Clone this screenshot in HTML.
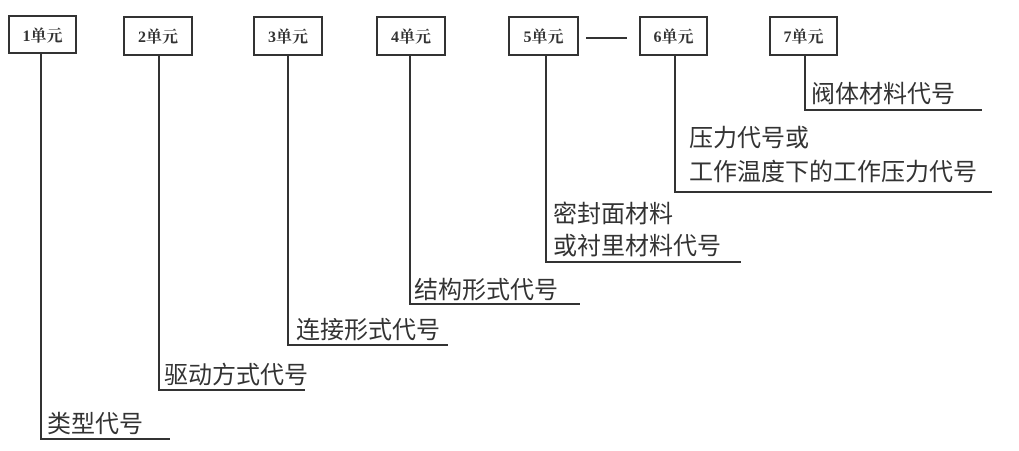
<!DOCTYPE html>
<html><head><meta charset="utf-8"><style>
body{margin:0;background:#fff;}
svg text{font-family:"Liberation Sans","Noto Sans CJK SC",sans-serif;fill:#333;}
svg text.b{font-family:"Liberation Serif","Noto Serif CJK SC",serif;font-weight:bold;font-size:16px;}
</style></head><body>
<svg width="1019" height="446" viewBox="0 0 1019 446" xmlns="http://www.w3.org/2000/svg">
<g fill="#fff" stroke="#333" stroke-width="2">
<rect x="9" y="16" width="67" height="37"/>
<rect x="124" y="17" width="68" height="38"/>
<rect x="254" y="17" width="68" height="38"/>
<rect x="377" y="17" width="68" height="38"/>
<rect x="509" y="17" width="69" height="38"/>
<rect x="640" y="17" width="67" height="38"/>
<rect x="770" y="17" width="67" height="38"/>
</g>
<g text-anchor="middle">
<text class="b" x="42.5" y="41">1单元</text>
<text class="b" x="158" y="42">2单元</text>
<text class="b" x="288" y="42">3单元</text>
<text class="b" x="411" y="42">4单元</text>
<text class="b" x="543.5" y="42">5单元</text>
<text class="b" x="673.5" y="42">6单元</text>
<text class="b" x="803.5" y="42">7单元</text>
</g>
<g fill="none" stroke="#333" stroke-width="2">
<line x1="586" y1="38" x2="627" y2="38"/>
<polyline points="41,53 41,439 170,439"/>
<polyline points="159,55 159,390 305,390"/>
<polyline points="288,55 288,345 448,345"/>
<polyline points="410,55 410,304 580,304"/>
<polyline points="546,55 546,262 741,262"/>
<polyline points="675,55 675,192 992,192"/>
<polyline points="805,55 805,110 982,110"/>
</g>
<g font-size="24">
<text x="47" y="432">类型代号</text>
<text x="164" y="383">驱动方式代号</text>
<text x="296" y="338">连接形式代号</text>
<text x="414" y="298">结构形式代号</text>
<text x="553" y="222">密封面材料</text>
<text x="553" y="254">或衬里材料代号</text>
<text x="689" y="146">压力代号或</text>
<text x="689" y="180">工作温度下的工作压力代号</text>
<text x="811" y="102">阀体材料代号</text>
</g>
</svg>
</body></html>
